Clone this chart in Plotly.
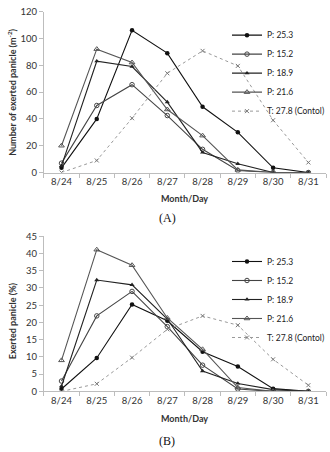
import plotly.graph_objects as go

days = ["8/24", "8/25", "8/26", "8/27", "8/28", "8/29", "8/30", "8/31"]
series_names = ["P: 25.3", "P: 15.2", "P: 18.9", "P: 21.6", "T: 27.8 (Contol)"]

# (A) Number of exerted panicle (m^-2)
a_p253 = [3.5, 40, 106, 89, 49, 30, 3.5, 0]
a_p152 = [7, 50, 65.5, 42.5, 17.3, 1.5, 0, 0]
a_p189 = [5, 83, 79, 52.5, 15, 6.5, 0, 0]
a_p216 = [20, 92, 82, 47, 27.5, 2, 0, 0]
a_t278 = [0, 9, 40.5, 74, 90.7, 79.5, 39, 7.5]

# (B) Exerted panicle (%)
b_p253 = [0.7, 9.7, 25.2, 20.5, 11.5, 7.2, 0.8, 0]
b_p152 = [3, 21.9, 29, 18.8, 7.6, 0.7, 0, 0]
b_p189 = [1.5, 32.3, 30.9, 21, 5.9, 2.3, 0.5, 0]
b_p216 = [9, 41.1, 36.6, 21.3, 12.2, 1.1, 0, 0]
b_t278 = [0, 2.2, 9.8, 18, 21.9, 19.2, 9.3, 1.8]

W, H = 330, 452
styles = [
    dict(line=dict(color="#111111", width=1.1), marker=dict(symbol="circle", size=4.5, color="#111111")),
    dict(line=dict(color="#444444", width=1.1), marker=dict(symbol="circle-open", size=4.5, color="#444444", line=dict(width=1))),
    dict(line=dict(color="#222222", width=1.1), marker=dict(symbol="triangle-up", size=4.5, color="#222222")),
    dict(line=dict(color="#555555", width=1.1), marker=dict(symbol="triangle-up-open", size=5, color="#555555", line=dict(width=1))),
    dict(line=dict(color="#999999", width=1, dash="dot"), marker=dict(symbol="x-thin-open", size=4, color="#777777", line=dict(width=1))),
]

fig = go.Figure()
for i, (name, ys) in enumerate(zip(series_names, [a_p253, a_p152, a_p189, a_p216, a_t278])):
    fig.add_trace(go.Scatter(x=days, y=ys, name=name, mode="lines+markers",
                             xaxis="x", yaxis="y", legend="legend", **styles[i]))
for i, (name, ys) in enumerate(zip(series_names, [b_p253, b_p152, b_p189, b_p216, b_t278])):
    fig.add_trace(go.Scatter(x=days, y=ys, name=name, mode="lines+markers",
                             xaxis="x2", yaxis="y2", legend="legend2", **styles[i]))

font = "Lato, 'Open Sans', sans-serif"
xdom = [44 / W, 327 / W]
ax_common = dict(showline=True, linecolor="#bdbdbd", linewidth=1, showgrid=False, zeroline=False,
                 ticks="outside", ticklen=4, tickcolor="#bdbdbd",
                 tickfont=dict(family=font, size=9.5, color="#333333"))
xcommon = dict(ax_common, type="category", tickson="boundaries", range=[-0.5, 7.5])

fig.update_layout(
    width=W, height=H, margin=dict(l=0, r=0, t=0, b=0),
    paper_bgcolor="white", plot_bgcolor="white",
    xaxis=dict(xcommon, domain=xdom, anchor="y"),
    yaxis=dict(ax_common, domain=[1 - 170.7 / H, 1 - 5.7 / H], range=[0, 120], dtick=20, anchor="x"),
    xaxis2=dict(xcommon, domain=xdom, anchor="y2"),
    yaxis2=dict(ax_common, domain=[1 - 395 / H, 1 - 236 / H], range=[0, 45], dtick=5, anchor="x2"),
    legend=dict(x=228 / W, y=1 - 15 / H, xanchor="left", yanchor="top", bgcolor="rgba(0,0,0,0)",
                font=dict(family=font, size=8.5, color="#222222"), itemwidth=30, tracegroupgap=0),
    legend2=dict(x=228 / W, y=1 - 247 / H, xanchor="left", yanchor="top", bgcolor="rgba(0,0,0,0)",
                 font=dict(family=font, size=8.5, color="#222222"), itemwidth=30, tracegroupgap=0),
    showlegend=True,
)

ann = [
    dict(text="<b>Number of exerted panicle (m<sup>-2</sup>)</b>", x=12 / W, y=1 - 88 / H, textangle=-90),
    dict(text="<b>Exerted panicle (%)</b>", x=12 / W, y=1 - 322 / H, textangle=-90),
    dict(text="<b>Month/Day</b>", x=185 / W, y=1 - 197 / H),
    dict(text="<b>Month/Day</b>", x=185 / W, y=1 - 423 / H),
]
for a in ann:
    fig.add_annotation(xref="paper", yref="paper", showarrow=False, xanchor="center", yanchor="middle",
                       font=dict(family=font, size=9, color="#333333"), **a)
for t, yy in [("(A)", 217), ("(B)", 446)]:
    fig.add_annotation(text=t, xref="paper", yref="paper", x=168 / W, y=1 - yy / H, showarrow=False,
                       xanchor="center", yanchor="middle",
                       font=dict(family="'Liberation Serif', 'DejaVu Serif', serif", size=12, color="#111111"))

fig.write_html("out.html")
